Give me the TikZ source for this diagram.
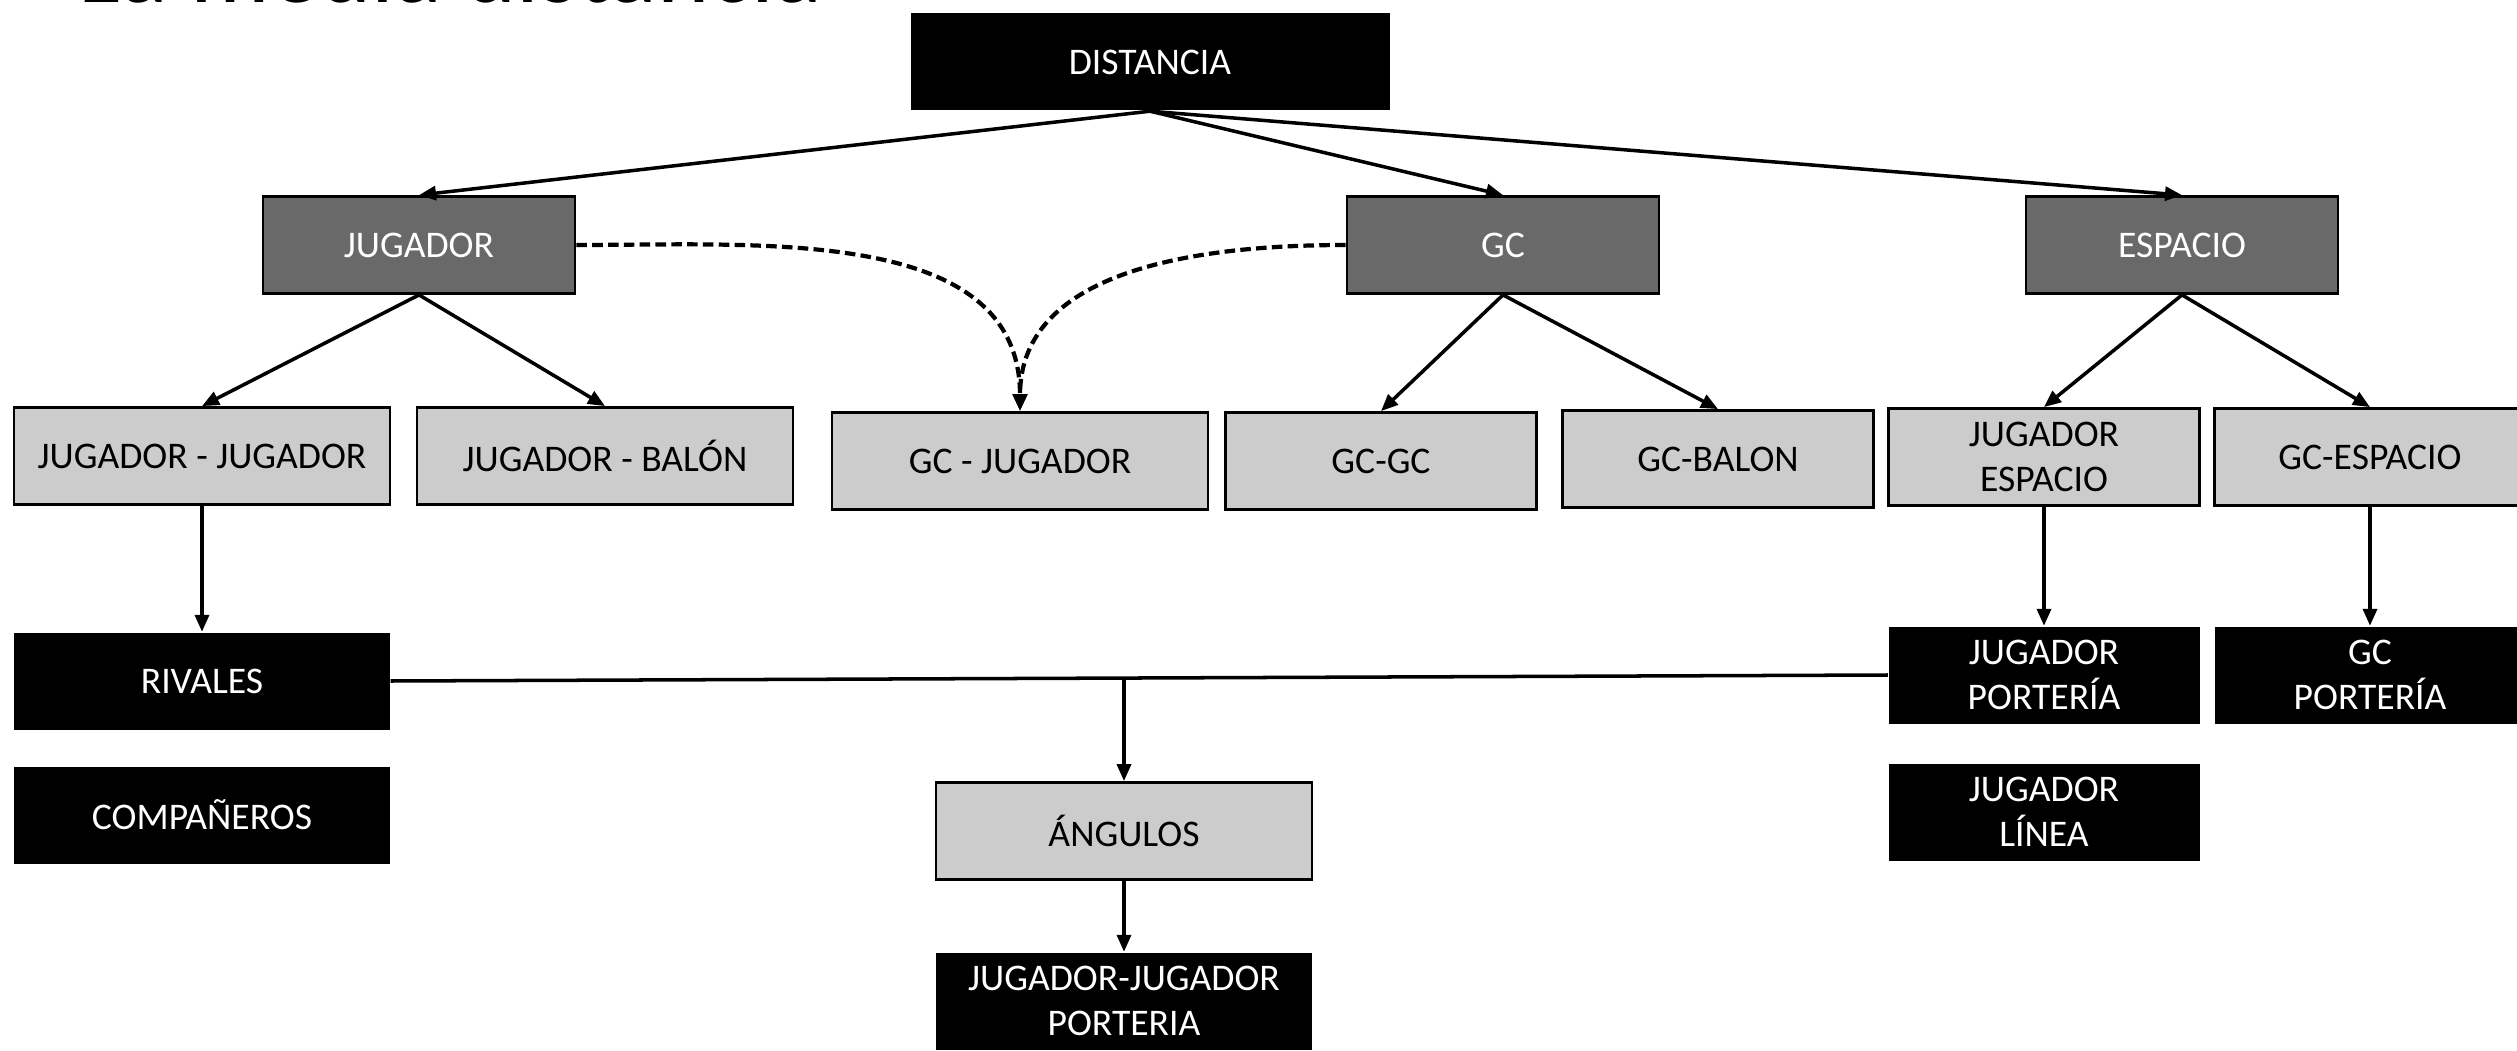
\documentclass[tikz,border=0pt]{standalone}
\usepackage{fontspec}
\setmainfont{Carlito}
\usetikzlibrary{arrows.meta}

\begin{document}
\begin{tikzpicture}[
	caja/.style={minimum height=0.97cm, inner sep=0pt, align=center, font=\fontsize{10.7}{12.8}\selectfont},
	oscura/.style={caja, draw, line width=0.8pt, fill=black!59, text=white, minimum width=3.12cm},
	clara/.style={caja, draw, line width=0.8pt, fill=black!20, minimum width=3.76cm},
	negra/.style={caja, fill=black, text=white, minimum width=3.76cm},
	estrecha/.style={minimum width=3.11cm},
	flecha/.style={line width=1pt, -{Triangle[length=1.7mm,width=1.4mm]}},
	punteada/.style={flecha, line width=1.2pt, dash pattern=on 3pt off 1.5pt}
	]
	\path[use as bounding box] (0,0) rectangle (25.17,10.5);
	\clip (0,0) rectangle (25.17,10.5);
	
	\node[anchor=base west, inner sep=0pt, font=\fontsize{28.3}{30}\selectfont] (titulo) at (0.78,10.47) {La media distancia};
	
	\node[negra, minimum width=4.79cm] (distancia) at (11.50,9.88) {DISTANCIA};
	
	\node[oscura] (jugador) at (4.19,8.05) {JUGADOR};
	\node[oscura] (gc) at (15.03,8.05) {GC};
	\node[oscura] (espacio) at (21.82,8.05) {ESPACIO};
	
	\node[clara] (jugjug) at (2.02,5.94) {JUGADOR - JUGADOR};
	\node[clara] (jugbalon) at (6.05,5.94) {JUGADOR - BALÓN};
	\node[clara] (gcjug) at (10.20,5.89) {GC - JUGADOR};
	\node[clara, estrecha] (gcgc) at (13.81,5.89) {GC-GC};
	\node[clara, estrecha] (gcbalon) at (17.18,5.91) {GC-BALON};
	\node[clara, estrecha] (jugespacio) at (20.44,5.93) {JUGADOR\\ESPACIO};
	\node[clara, estrecha] (gcespacio) at (23.70,5.93) {GC-ESPACIO};
	
	\node[negra] (rivales) at (2.02,3.69) {RIVALES};
	\node[negra] (companeros) at (2.02,2.35) {COMPAÑEROS};
	\node[clara] (angulos) at (11.24,2.19) {ÁNGULOS};
	\node[negra] (jjporteria) at (11.24,0.49) {JUGADOR-JUGADOR\\PORTERIA};
	\node[negra, estrecha] (jugporteria) at (20.44,3.75) {JUGADOR\\PORTERÍA};
	\node[negra, estrecha] (gcporteria) at (23.70,3.75) {GC\\PORTERÍA};
	\node[negra, estrecha] (juglinea) at (20.44,2.38) {JUGADOR\\LÍNEA};
	
	% primer nivel
	\draw[flecha] (distancia.south) -- (jugador.north);
	\draw[flecha] (distancia.south) -- (gc.north);
	\draw[flecha] (distancia.south) -- (espacio.north);
	
	% segundo nivel
	\draw[flecha] (jugador.south) -- (jugjug.north);
	\draw[flecha] (jugador.south) -- (jugbalon.north);
	\draw[flecha] (gc.south) -- (gcgc.north);
	\draw[flecha] (gc.south) -- (gcbalon.north);
	\draw[flecha] (espacio.south) -- (jugespacio.north);
	\draw[flecha] (espacio.south) -- (gcespacio.north);
	
	\draw[punteada] (jugador.east) to[out=0, in=90] (gcjug.north);
	\draw[punteada] (gc.west) to[out=180, in=90] (gcjug.north);
	
	% tercer nivel
	\draw[flecha] (jugjug.south) -- (rivales.north);
	\draw[flecha] (jugespacio.south) -- (jugporteria.north);
	\draw[flecha] (gcespacio.south) -- (gcporteria.north);
	
	\draw[line width=1pt] (rivales.east) -- coordinate[pos=0.49] (cruce) (jugporteria.west);
	\draw[flecha] (angulos.north |- cruce) -- (angulos.north);
	\draw[flecha] (angulos.south) -- (jjporteria.north);
\end{tikzpicture}
\end{document}
